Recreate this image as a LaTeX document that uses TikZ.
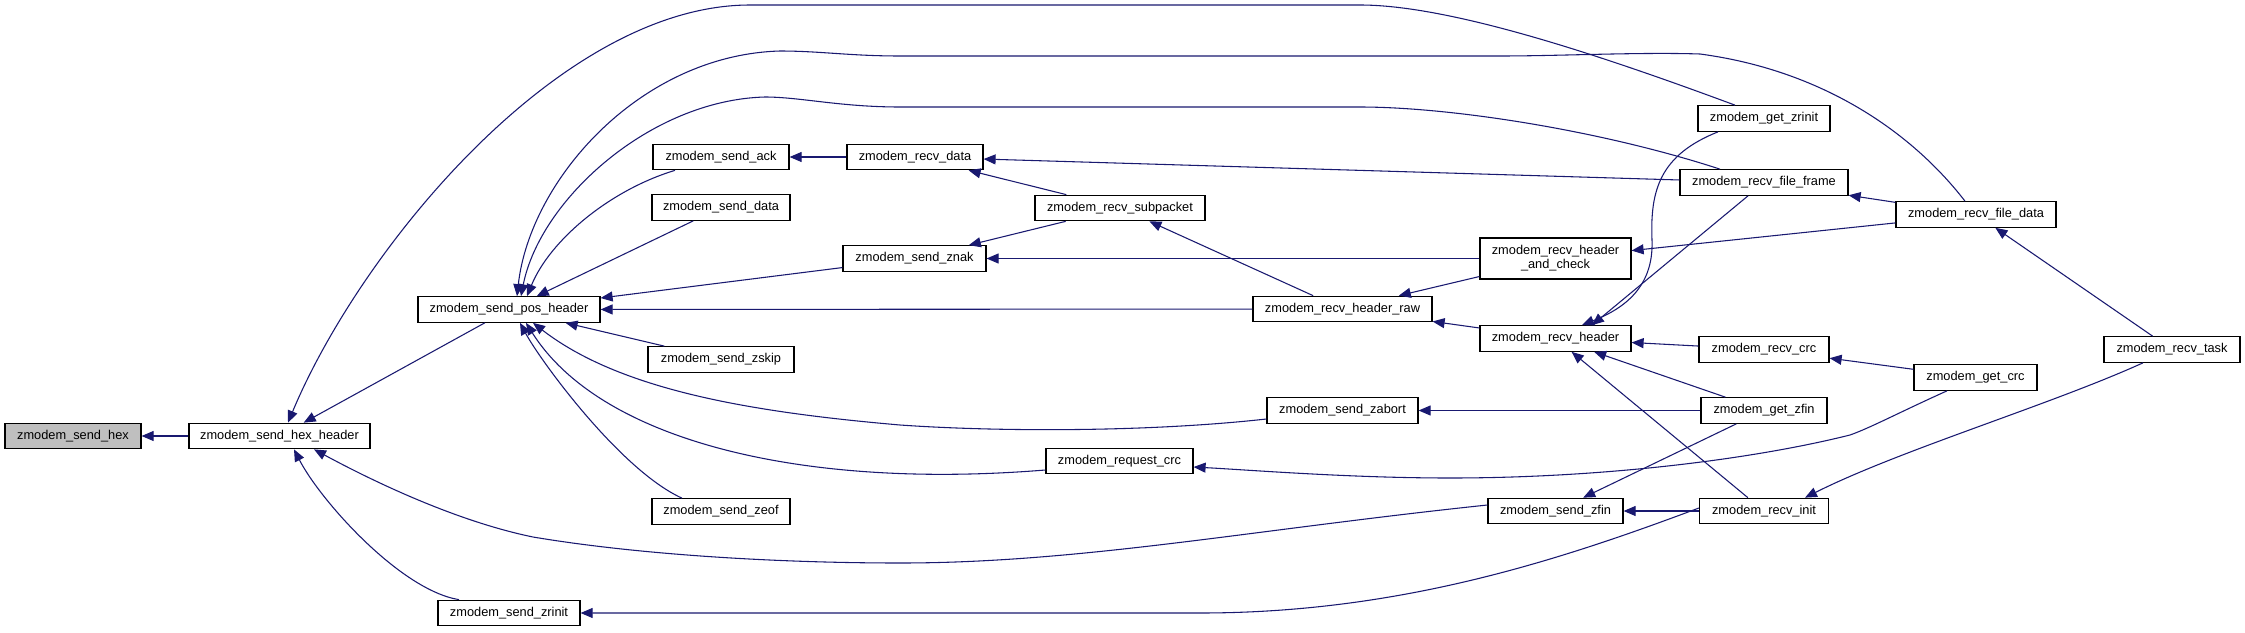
\documentclass[tikz,border=0pt]{standalone}
\usepackage{fontspec}
\setmainfont{Liberation Sans}
\usetikzlibrary{arrows.meta,calc}
\definecolor{navyedge}{HTML}{191970}
\begin{document}
\begin{tikzpicture}[x=0.75pt,y=-0.75pt,
  fnbox/.style={draw=black, line width=0.9pt, fill=white, inner sep=0pt,
    minimum height=25.5*0.75pt, align=center,
    font=\fontsize{9.6pt}{10.5pt}\selectfont},
  bw/.style={minimum width=#1*0.75pt},
  calls/.style={draw=navyedge, line width=0.8pt,
    -{Triangle[length=9pt,width=7.5pt]}}]
\fill[white] (0,0) rectangle (2245,632);
\useasboundingbox (0,0) rectangle (2245,632);

% nodes
\node[fnbox,bw=136,fill=gray!50] (hex) at (73,436) {zmodem\_send\_hex};
\node[fnbox,bw=181] (hexhdr) at (279.5,436) {zmodem\_send\_hex\_header};
\node[fnbox,bw=182] (poshdr) at (509,309.5) {zmodem\_send\_pos\_header};
\node[fnbox,bw=142] (zrinit) at (509,613) {zmodem\_send\_zrinit};
\node[fnbox,bw=136] (ack) at (721,157) {zmodem\_send\_ack};
\node[fnbox,bw=138] (sdata) at (721,207.5) {zmodem\_send\_data};
\node[fnbox,bw=146] (zskip) at (721,359.5) {zmodem\_send\_zskip};
\node[fnbox,bw=138] (zeof) at (721,511.5) {zmodem\_send\_zeof};
\node[fnbox,bw=136] (rdata) at (915,157) {zmodem\_recv\_data};
\node[fnbox,bw=143] (znak) at (914.5,258.5) {zmodem\_send\_znak};
\node[fnbox,bw=170] (subpacket) at (1120,208) {zmodem\_recv\_subpacket};
\node[fnbox,bw=147] (reqcrc) at (1119.5,461) {zmodem\_request\_crc};
\node[fnbox,bw=179] (raw) at (1342.5,309) {zmodem\_recv\_header\_raw};
\node[fnbox,bw=151] (zabort) at (1342.5,410.5) {zmodem\_send\_zabort};
\node[fnbox,bw=151,minimum height=41*0.75pt] (andcheck) at (1555.5,258.5) {zmodem\_recv\_header\\\_and\_check};
\node[fnbox,bw=151] (rheader) at (1555.5,338.5) {zmodem\_recv\_header};
\node[fnbox,bw=135] (szfin) at (1555.5,511) {zmodem\_send\_zfin};
\node[fnbox,bw=132] (getzrinit) at (1764,118.5) {zmodem\_get\_zrinit};
\node[fnbox,bw=168] (fileframe) at (1764,182.5) {zmodem\_recv\_file\_frame};
\node[fnbox,bw=130] (rcrc) at (1764,349.5) {zmodem\_recv\_crc};
\node[fnbox,bw=126] (getzfin) at (1764,410.5) {zmodem\_get\_zfin};
\node[fnbox,bw=129] (rinit) at (1764,511) {zmodem\_recv\_init};
\node[fnbox,bw=160] (filedata) at (1976,214.5) {zmodem\_recv\_file\_data};
\node[fnbox,bw=123] (getcrc) at (1975.5,377.5) {zmodem\_get\_crc};
\node[fnbox,bw=136] (task) at (2172,349.5) {zmodem\_recv\_task};

% straight calls
\draw[calls] (hexhdr) -- (hex);
\draw[calls] (poshdr) -- (hexhdr);
\draw[calls] (sdata) -- (poshdr);
\draw[calls] (znak) -- (poshdr);
\draw[calls] (raw) -- (poshdr);
\draw[calls] (zskip) -- (poshdr);
\draw[calls] (rdata) -- (ack);
\draw[calls] (fileframe) -- (rdata);
\draw[calls] (subpacket) -- (rdata);
\draw[calls] (raw) -- (subpacket);
\draw[calls] (subpacket) -- (znak);
\draw[calls] (andcheck) -- (znak);
\draw[calls] (andcheck) -- (raw);
\draw[calls] (rheader) -- (raw);
\draw[calls] (filedata) -- (andcheck);
\draw[calls] (filedata) -- (fileframe);
\draw[calls] (task) -- (filedata);
\draw[calls] (rcrc) -- (rheader);
\draw[calls] (getzfin) -- (rheader);
\draw[calls] (rinit) -- (rheader);
\draw[calls] (getzfin) -- (zabort);
\draw[calls] (getzfin) -- (szfin);
\draw[calls] (rinit) -- (szfin);
\draw[calls] (getcrc) -- (rcrc);
\draw[calls] ($(fileframe.south)+(-16,0)$) -- ($(rheader.north)+(36.5,0)$);

% curved calls
\draw[calls] ($(zrinit.north)+(-50,0)$) .. controls (400,590) and (320,500) .. ($(hexhdr.south)+(14.5,0)$);
\draw[calls] ($(getzrinit.north)+(-29,0)$) .. controls (1600,55) and (1450,5) .. (1360,5)
  -- (750,5) .. controls (560,5) and (360,250) .. ($(hexhdr.north)+(8.5,0)$);
\draw[calls] ($(szfin.west)+(0,-6)$) .. controls (1250,530) and (1080,563) .. (900,563)
  .. controls (780,563) and (640,555) .. (533,537)
  .. controls (460,522) and (380,485) .. ($(hexhdr.south)+(34.5,0)$);
\draw[calls] ($(filedata.north)+(-11,0)$) .. controls (1910,130) and (1820,70) .. (1700,54)
  .. controls (1640,52) and (1560,56) .. (1500,56) -- (900,56)
  .. controls (850,56) and (820,51) .. (780,51)
  .. controls (640,55) and (530,180) .. ($(poshdr.north)+(8,0)$);
\draw[calls] ($(fileframe.north)+(-44,0)$) .. controls (1600,130) and (1450,107) .. (1360,107)
  -- (900,107) .. controls (840,107) and (800,97) .. (765,97)
  .. controls (650,100) and (540,200) .. ($(poshdr.north)+(12,0)$);
\draw[calls] ($(ack.south)+(-46,0)$) .. controls (610,190) and (550,240) .. ($(poshdr.north)+(18,0)$);
\draw[calls] ($(zeof.north)+(-39,0)$) .. controls (620,470) and (540,360) .. ($(poshdr.south)+(11,0)$);
\draw[calls] ($(reqcrc.west)+(0,9)$) .. controls (800,490) and (600,440) .. ($(poshdr.south)+(17,0)$);
\draw[calls] ($(zabort.west)+(0,8.5)$) .. controls (1150,432) and (1000,432) .. (900,425)
  .. controls (750,412) and (620,390) .. ($(poshdr.south)+(24,0)$);
\draw[calls] ($(task.south)+(-29,0)$) .. controls (2050,405) and (1900,450) .. ($(rinit.north)+(41,0)$);
\draw[calls] ($(getzrinit.south)+(-46,0)$) .. controls (1660,155) and (1650,190) .. (1652,240)
  .. controls (1654,290) and (1620,310) .. ($(rheader.north)+(26.5,0)$);
\draw[calls] ($(getcrc.south)+(-28.5,0)$) .. controls (1900,412) and (1870,428) .. (1850,435)
  .. controls (1750,460) and (1600,478) .. (1450,478)
  .. controls (1350,478) and (1250,470) .. ($(reqcrc.east)+(0,6)$);
\draw[calls] ($(rinit.west)+(0,-3)$) .. controls (1560,560) and (1400,613) .. (1200,613)
  -- (zrinit.east);
\end{tikzpicture}
\end{document}
